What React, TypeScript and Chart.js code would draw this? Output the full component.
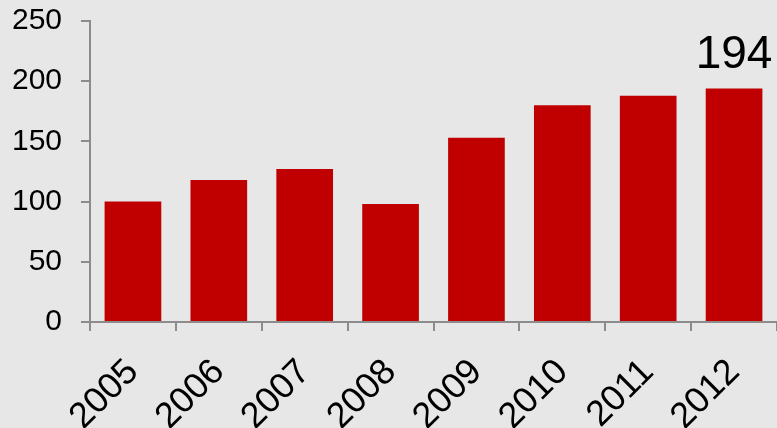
import React, { useEffect, useRef } from "react";
import { Chart, registerables } from "chart.js";

Chart.register(...registerables);

const categories = ["2005", "2006", "2007", "2008", "2009", "2010", "2011", "2012"];
const values = [100, 118, 127, 98, 153, 180, 188, 194];
const yTicks = [0, 50, 100, 150, 200, 250];
const labelIndex = 7;
const labelText = "194";

const FONT = "'Liberation Sans', Arial, sans-serif";

const bgPlugin = {
  id: "bg",
  beforeDraw(chart: any) {
    const { ctx, width, height } = chart;
    ctx.save();
    ctx.fillStyle = "#e7e7e7";
    ctx.fillRect(0, 0, width, height);
    ctx.restore();
  },
};

const valueLabelPlugin = {
  id: "valueLabel",
  afterDatasetsDraw(chart: any) {
    const meta = chart.getDatasetMeta(0);
    const el = meta.data[labelIndex];
    if (!el) return;
    const { ctx } = chart;
    ctx.save();
    ctx.fillStyle = "#000";
    ctx.font = `46px ${FONT}`;
    ctx.textAlign = "center";
    ctx.textBaseline = "alphabetic";
    ctx.fillText(labelText, el.x, el.y - 20);
    ctx.restore();
  },
};

export default function App() {
  const ref = useRef<HTMLCanvasElement>(null);
  useEffect(() => {
    document.body.style.margin = "0";
    const chart = new Chart(ref.current as HTMLCanvasElement, {
      type: "bar",
      data: {
        labels: categories,
        datasets: [
          {
            data: values,
            backgroundColor: "#C00000",
            barPercentage: 0.66,
            categoryPercentage: 1,
          },
        ],
      },
      options: {
        animation: false,
        responsive: false,
        maintainAspectRatio: false,
        layout: { padding: { top: 21, right: 0, left: 0, bottom: 0 } },
        plugins: { legend: { display: false }, tooltip: { enabled: false } },
        scales: {
          x: {
            grid: {
              offset: true,
              drawOnChartArea: false,
              tickLength: 9,
              color: "#8c8c8c",
              lineWidth: 2,
            },
            border: { color: "#8c8c8c", width: 2 },
            ticks: {
              minRotation: 45,
              maxRotation: 45,
              autoSkip: false,
              color: "#000",
              font: { family: FONT, size: 36 },
              padding: 20,
            },
            afterFit: (s: any) => {
              s.height = 106;
              s.paddingLeft = 0;
              s.paddingRight = 0;
            },
          },
          y: {
            min: 0,
            max: 250,
            grid: {
              drawOnChartArea: false,
              tickLength: 9,
              color: "#8c8c8c",
              lineWidth: 2,
            },
            border: { color: "#8c8c8c", width: 2 },
            ticks: {
              color: "#000",
              font: { family: FONT, size: 30 },
              padding: 19,
            },
            afterBuildTicks: (s: any) => {
              s.ticks = yTicks.map((v) => ({ value: v }));
            },
            afterFit: (s: any) => {
              s.width = 90;
              s.paddingTop = 0;
              s.paddingBottom = 0;
            },
          },
        },
      },
      plugins: [bgPlugin, valueLabelPlugin],
    });
    return () => chart.destroy();
  }, []);
  return <canvas ref={ref} width={777} height={428} style={{ display: "block" }} />;
}
